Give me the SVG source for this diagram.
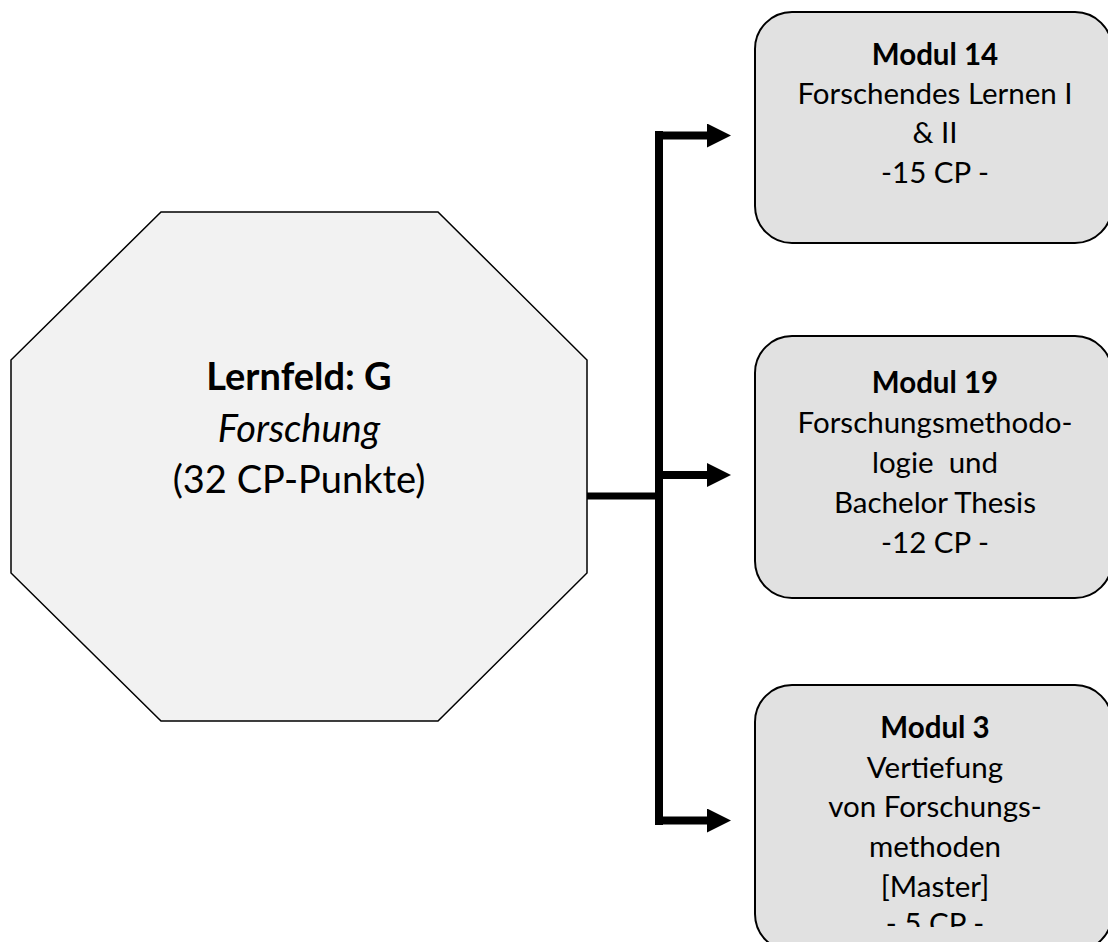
<svg xmlns="http://www.w3.org/2000/svg" width="1108" height="942" viewBox="0 0 1108 942">
  <style>
    .oct { fill: #f2f2f2; stroke: #000; stroke-width: 1.5; }
    .box { fill: #e1e1e1; stroke: #000; stroke-width: 2; }
    .t { font-family: Lato, "Liberation Sans", sans-serif; fill: #000; text-anchor: middle; }
    .big { font-size: 38px; }
    .sm { font-size: 29.5px; }
    .b { font-weight: bold; }
    .i { font-style: italic; }
    .conn { stroke: #000; fill: none; }
  </style>
  <defs>
    <marker id="ah" markerUnits="userSpaceOnUse" markerWidth="24" markerHeight="24" refX="0" refY="12" orient="auto">
      <path d="M0,0 L24,12 L0,24 Z" fill="#000"/>
    </marker>
    <clipPath id="clip3">
      <rect x="755" y="685" width="360" height="242"/>
    </clipPath>
  </defs>

  <g id="lernfeld">
    <polygon class="oct" points="161,212 438,212 587,360 587,573 438,721 161,721 11,573 11,360"/>
    <text class="t big b" x="299" y="390">Lernfeld: G</text>
    <text class="t big i" x="299" y="442">Forschung</text>
    <text class="t big" x="299" y="493">(32 CP-Punkte)</text>
  </g>

  <g id="connectors">
    <line class="conn" x1="587" y1="496" x2="659" y2="496" stroke-width="7"/>
    <line class="conn" x1="659" y1="131" x2="659" y2="825" stroke-width="8"/>
    <line class="conn" x1="655" y1="135.5" x2="707" y2="135.5" stroke-width="8" marker-end="url(#ah)"/>
    <line class="conn" x1="655" y1="475" x2="707" y2="475" stroke-width="8" marker-end="url(#ah)"/>
    <line class="conn" x1="655" y1="820.5" x2="707" y2="820.5" stroke-width="8" marker-end="url(#ah)"/>
  </g>

  <g id="modul14">
    <rect class="box" x="755" y="12" width="357" height="231" rx="37" ry="37"/>
    <text class="t sm b" x="935" y="65">Modul 14</text>
    <text class="t sm" x="935" y="104">Forschendes Lernen I</text>
    <text class="t sm" x="935" y="143">&amp; II</text>
    <text class="t sm" x="935" y="183">-15 CP -</text>
  </g>

  <g id="modul19">
    <rect class="box" x="755" y="336" width="357" height="262" rx="37" ry="37"/>
    <text class="t sm b" x="935" y="393">Modul 19</text>
    <text class="t sm" x="935" y="433">Forschungsmethodo-</text>
    <text class="t sm" x="935" y="473" style="white-space:pre">logie  und</text>
    <text class="t sm" x="935" y="513">Bachelor Thesis</text>
    <text class="t sm" x="935" y="553">-12 CP -</text>
  </g>

  <g id="modul3">
    <rect class="box" x="755" y="685" width="357" height="266" rx="37" ry="37"/>
    <text class="t sm b" x="935" y="738">Modul 3</text>
    <text class="t sm" x="935" y="778">Vertiefung</text>
    <text class="t sm" x="935" y="817">von Forschungs-</text>
    <text class="t sm" x="935" y="857">methoden</text>
    <text class="t sm" x="935" y="897">[Master]</text>
    <text class="t sm" x="935" y="934" clip-path="url(#clip3)">- 5 CP -</text>
  </g>
</svg>
